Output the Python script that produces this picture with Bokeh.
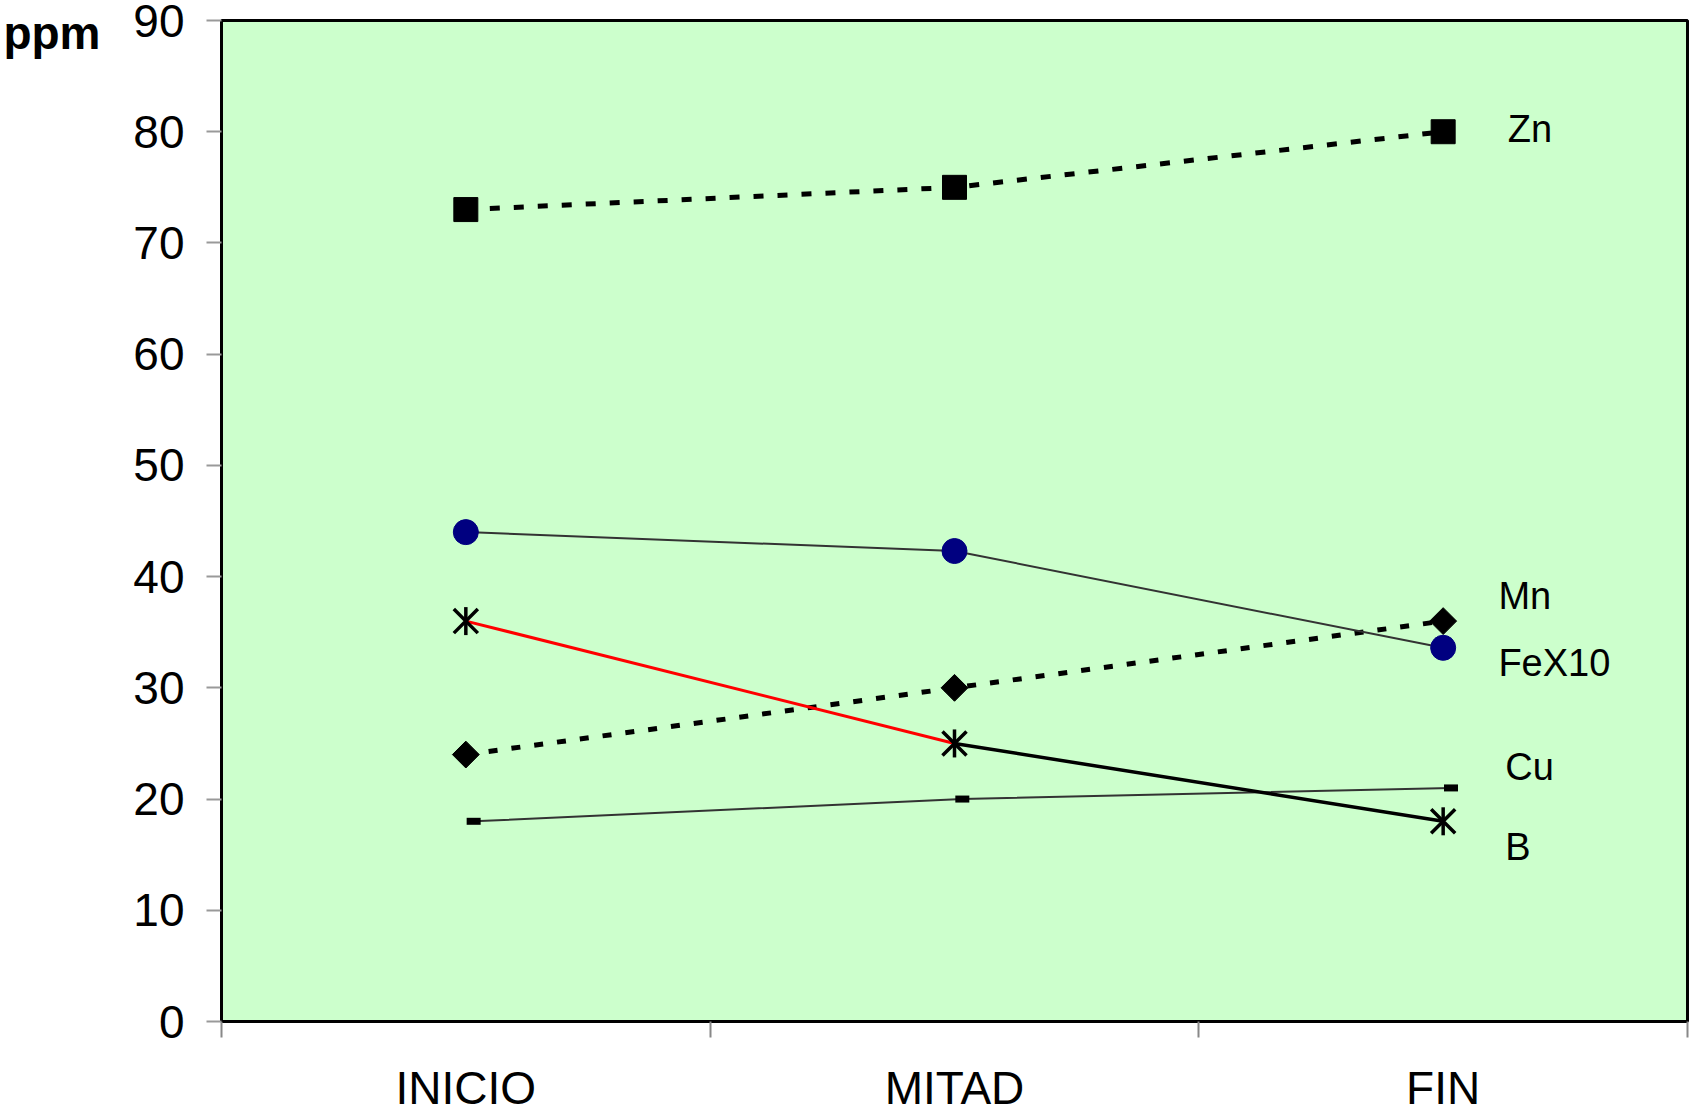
from bokeh.plotting import figure
from bokeh.models import FixedTicker, Label, Range1d, LinearAxis
from bokeh.transform import dodge
from bokeh.embed import file_html
from bokeh.resources import INLINE

categories = ["INICIO", "MITAD", "FIN"]
zn = [73, 75, 80]
fe_x10 = [44, 42.3, 33.6]
mn = [24, 30, 36]
b = [36, 25, 18]
cu = [18, 20, 21]
y_ticks = [0, 10, 20, 30, 40, 50, 60, 70, 80, 90]
series_names = ["Zn", "Mn", "FeX10", "Cu", "B"]
unit_label = "ppm"

FONT = "Liberation Sans"
x = [i + 0.5 for i in range(len(categories))]

p = figure(width=1690, height=1116, output_backend="svg", toolbar_location=None,
           x_range=Range1d(0, len(categories)), y_range=Range1d(0, 90),
           min_border_left=220, min_border_right=3, min_border_top=20, min_border_bottom=92)
p.background_fill_color = "#CCFFCC"
p.outline_line_color = "black"
p.outline_line_width = 3
p.xgrid.visible = False
p.ygrid.visible = False

# y axis
p.yaxis.ticker = FixedTicker(ticks=y_ticks)
p.yaxis.axis_line_color = "black"
p.yaxis.axis_line_width = 3
p.yaxis.major_tick_out = 15
p.yaxis.major_tick_in = 0
p.yaxis.major_tick_line_color = "#999999"
p.yaxis.major_tick_line_width = 2
p.yaxis.minor_tick_line_color = None
p.yaxis.major_label_standoff = 22
p.yaxis.major_label_text_font = FONT
p.yaxis.major_label_text_font_size = "46px"
p.yaxis.major_label_text_color = "black"

# unit label "ppm" as a second left axis with a single tick at the top
unit_axis = LinearAxis(ticker=FixedTicker(ticks=[y_ticks[-1]]),
                       major_label_overrides={y_ticks[-1]: unit_label})
unit_axis.axis_line_color = None
unit_axis.major_tick_line_color = None
unit_axis.minor_tick_line_color = None
unit_axis.major_tick_out = 0
unit_axis.major_tick_in = 0
unit_axis.major_label_standoff = 30
unit_axis.major_label_text_font = FONT
unit_axis.major_label_text_font_size = "46px"
unit_axis.major_label_text_font_style = "bold"
unit_axis.major_label_text_color = "black"
p.add_layout(unit_axis, "left")

# x axis: labels at category centres, ticks on category boundaries
p.xaxis.ticker = FixedTicker(ticks=x, minor_ticks=list(range(len(categories) + 1)))
p.xaxis.major_label_overrides = {xi: c for xi, c in zip(x, categories)}
p.xaxis.major_tick_line_color = None
p.xaxis.major_tick_out = 0
p.xaxis.major_tick_in = 0
p.xaxis.minor_tick_out = 16
p.xaxis.minor_tick_in = 0
p.xaxis.minor_tick_line_color = "#888888"
p.xaxis.minor_tick_line_width = 2
p.xaxis.axis_line_color = "black"
p.xaxis.axis_line_width = 3
p.xaxis.major_label_standoff = 24
p.xaxis.major_label_text_font = FONT
p.xaxis.major_label_text_font_size = "46px"
p.xaxis.major_label_text_color = "black"

# Zn
p.line(x, zn, line_color="black", line_width=5, line_dash="10 14")
p.scatter(x, zn, marker="square", size=24, fill_color="black", line_color="black")
# Mn
p.line(x, mn, line_color="black", line_width=5, line_dash="9 14")
p.scatter(x, mn, marker="square", size=19, angle=0.785398, fill_color="black",
          line_color="black")
# FeX10
p.line(x, fe_x10, line_color="#333333", line_width=2)
p.scatter(x, fe_x10, marker="circle", size=25, fill_color="#000080", line_color="#000080")
# Cu
src_cu = {"x": x, "y": cu}
p.line(x=dodge("x", 0.016), y="y", source=src_cu, line_color="#333333", line_width=2)
p.scatter(x=dodge("x", 0.016), y="y", source=src_cu, marker="dash", size=14,
          line_color="black", line_width=7)
# B
p.line(x[:2], b[:2], line_color="#FF0000", line_width=3)
p.line(x[1:], b[1:], line_color="black", line_width=3.5)
p.scatter(x, b, marker="x", size=34, line_color="black", line_width=3.5)
p.scatter(x, b, marker="dash", size=28, angle=1.570796, line_color="black", line_width=3.5)

# series labels at the right end
label_y = [80.2, 38.3, 32.2, 22.9, 15.7]
label_dx = [0.132, 0.113, 0.113, 0.127, 0.127]
for name, ly, dx in zip(series_names, label_y, label_dx):
    p.add_layout(Label(x=x[-1] + dx, y=ly, text=name, text_align="left",
                       text_baseline="middle", text_font=FONT, text_font_size="38px",
                       text_color="black"))

open("out.html", "w").write(file_html(p, INLINE))
